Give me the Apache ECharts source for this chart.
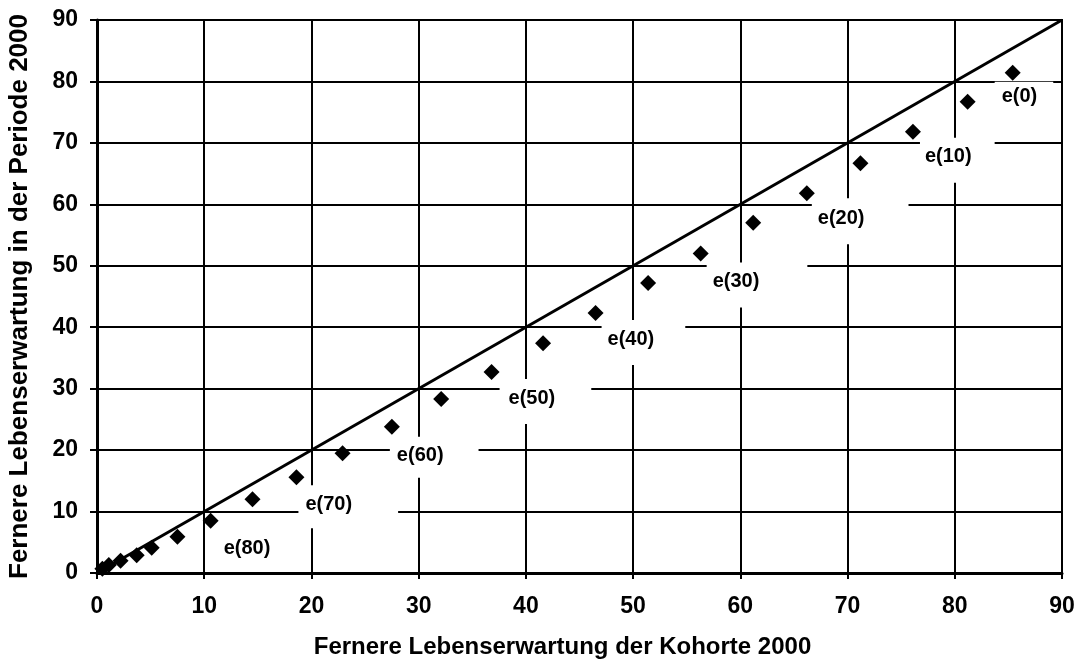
<!DOCTYPE html>
<html>
<head>
<meta charset="utf-8">
<title>Lebenserwartung Kohorte vs. Periode</title>
<style>
    html, body { margin: 0; padding: 0; background: #fff; }
    #main { width: 1088px; height: 671px; }
</style>
</head>
<body>
<div id="main"></div>
<script src="https://cdn.jsdelivr.net/npm/echarts@6/dist/echarts.min.js"></script>
<script type="text/javascript">
    // Fernere Lebenserwartung je Alter 0,5,10,... : Kohorte (x) und Periode (y)
    var kohorte = [85.4, 81.2, 76.1, 71.2, 66.2, 61.2, 56.3, 51.4, 46.5, 41.6, 36.8, 32.1,
                   27.5, 22.9, 18.6, 14.5, 10.6, 7.5, 5.1, 3.7, 2.2, 1.1, 0.5];
    var periode = [81.4, 76.7, 71.8, 66.7, 61.8, 57.0, 52.0, 47.2, 42.3, 37.4, 32.7, 28.3,
                   23.8, 19.5, 15.6, 12.0, 8.5, 5.9, 4.1, 2.9, 2.0, 1.3, 0.7];
    var labels = ['e(0)', '', 'e(10)', '', 'e(20)', '', 'e(30)', '', 'e(40)', '', 'e(50)', '',
                  'e(60)', '', 'e(70)', '', 'e(80)', '', '', '', '', '', ''];
    // Winkelhalbierende
    var diagonale = [[0, 0], [90, 90]];
    var ticks = [0, 10, 20, 30, 40, 50, 60, 70, 80, 90];

    var font = "'Liberation Sans', Arial, sans-serif";

    // Lage und weiße Hinterlegung der Beschriftungen
    var labelBox = {
        'e(0)':  { position: [-10, 17], padding: [5, 16, 16, 7] },
        'e(10)': { position: [15, 14], padding: [9, 23, 16, 5] },
        'e(20)': { position: [13, 13], padding: [10, 44, 16, 6] },
        'e(30)': { position: [14, 17], padding: [9, 48, 16, 6] },
        'e(40)': { position: [14, 15], padding: [9, 31, 16, 6] },
        'e(50)': { position: [16, 15], padding: [9, 36, 16, 9] },
        'e(60)': { position: [6, 18], padding: [9, 35, 12, 7] },
        'e(70)': { position: [10, 16], padding: [9, 46, 14, 7] },
        'e(80)': { position: [14, 17], padding: [9, 30, 4, 7] }
    };

    var punkte = [];
    for (var i = 0; i < kohorte.length; i++) {
        var item = { value: [kohorte[i], periode[i]], name: labels[i] };
        if (labels[i]) {
            var b = labelBox[labels[i]];
            item.label = {
                show: true,
                formatter: labels[i],
                position: b.position,
                padding: b.padding,
                backgroundColor: '#fff'
            };
        }
        punkte.push(item);
    }

    var chart = echarts.init(document.getElementById('main'));
    var option = {
        backgroundColor: '#fff',
        animation: false,
        textStyle: { fontFamily: font },
        grid: {
            left: 97,
            right: 26,
            top: 20,
            bottom: 98,
            show: true,
            borderColor: '#000',
            borderWidth: 2,
            containLabel: false,
            outerBoundsMode: 'none'
        },
        xAxis: {
            type: 'value',
            min: ticks[0],
            max: ticks[ticks.length - 1],
            interval: 10,
            name: 'Fernere Lebenserwartung der Kohorte 2000',
            nameLocation: 'middle',
            nameGap: 62,
            nameTextStyle: {
                fontSize: 24, fontWeight: 'bold', color: '#000', fontFamily: font,
                padding: [0, 34, 0, 0]
            },
            axisLine: { lineStyle: { color: '#000', width: 3 } },
            axisTick: { show: true, length: 6, lineStyle: { color: '#000', width: 2 } },
            axisLabel: { fontSize: 23, fontWeight: 'bold', color: '#000', margin: 22, fontFamily: font },
            splitLine: { show: true, lineStyle: { color: '#000', width: 2 } }
        },
        yAxis: {
            type: 'value',
            min: ticks[0],
            max: ticks[ticks.length - 1],
            interval: 10,
            name: 'Fernere Lebenserwartung in der Periode 2000',
            nameLocation: 'middle',
            nameGap: 64,
            nameTextStyle: { fontSize: 26, fontWeight: 'bold', color: '#000', fontFamily: font },
            axisLine: { lineStyle: { color: '#000', width: 3 } },
            axisTick: { show: true, length: 7, lineStyle: { color: '#000', width: 2 } },
            axisLabel: { fontSize: 23, fontWeight: 'bold', color: '#000', margin: 19, fontFamily: font },
            splitLine: { show: true, lineStyle: { color: '#000', width: 2 } }
        },
        series: [
            {
                name: 'Diagonale',
                type: 'line',
                data: diagonale,
                symbol: 'none',
                lineStyle: { color: '#000', width: 3 },
                z: 3
            },
            {
                name: 'e(x)',
                type: 'scatter',
                data: punkte,
                symbol: 'diamond',
                symbolSize: 16,
                itemStyle: { color: '#000', opacity: 1 },
                label: {
                    show: false,
                    color: '#000',
                    opacity: 1,
                    fontSize: 20,
                    fontWeight: 'bold',
                    fontFamily: font
                },
                z: 4
            }
        ]
    };
    chart.setOption(option);
</script>
</body>
</html>
